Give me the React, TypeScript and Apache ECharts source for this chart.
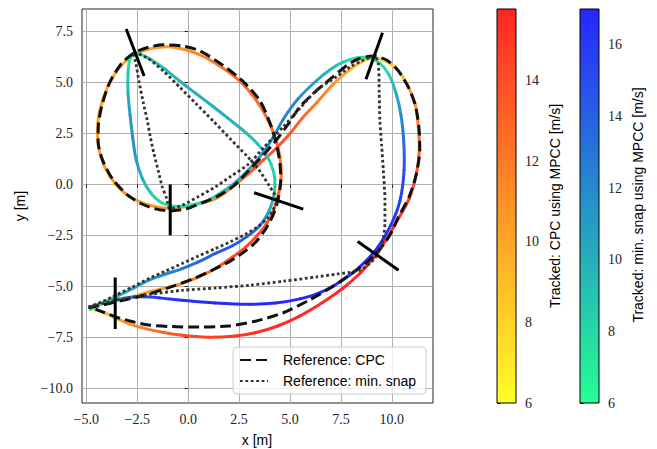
import React, { useEffect, useRef } from 'react';
import * as echarts from 'echarts';

// ---------- tick labels ----------
const xTicks = [-5, -2.5, 0, 2.5, 5, 7.5, 10];
const yTicks = [-10, -7.5, -5, -2.5, 0, 2.5, 5, 7.5];
const cpcBarTicks = [6, 8, 10, 12, 14];
const snapBarTicks = [6, 8, 10, 12, 14, 16];

// ---------- Reference: CPC ----------
const refCpcX = [-4.9, -4.2, -3.56, -2.6, -1.6, -0.7, 0.2, 1.1, 2.0, 2.7, 3.3, 3.8, 4.15, 4.4, 4.55, 4.5, 4.35, 4.1, 3.53, 2.7, 1.7, 0.59, -0.3, -1.21, -2.0, -2.68, -3.3, -3.85, -4.2, -4.4, -4.42, -4.2, -3.7, -3.0, -2.3, -1.6, -0.88, -0.1, 0.7, 1.5, 2.2, 2.9, 3.7, 4.35, 4.9, 5.49, 6.3, 7.12, 7.8, 8.4, 9.08, 9.74, 10.3, 10.8, 11.15, 11.33, 11.37, 11.2, 10.85, 10.3, 9.9, 9.4, 8.8, 8.0, 7.12, 6.0, 4.67, 3.3, 2.0, 0.52, -0.8, -1.93, -2.8, -3.56, -4.1, -4.55];
const refCpcY = [-6.05, -5.92, -5.77, -5.55, -5.28, -4.98, -4.65, -4.25, -3.8, -3.35, -2.85, -2.2, -1.55, -0.8, 0.2, 1.1, 1.9, 2.8, 4.1, 5.05, 5.85, 6.55, 6.8, 6.85, 6.72, 6.44, 5.9, 5.0, 4.0, 3.0, 2.1, 1.19, 0.25, -0.5, -0.95, -1.2, -1.3, -1.2, -0.9, -0.55, -0.1, 0.6, 1.45, 2.2, 2.95, 3.81, 4.6, 5.29, 5.85, 6.18, 6.3, 6.11, 5.6, 4.8, 3.9, 2.8, 1.7, 0.5, -0.6, -1.65, -2.5, -3.2, -3.8, -4.4, -5.0, -5.65, -6.3, -6.72, -6.95, -7.0, -6.98, -6.9, -6.72, -6.5, -6.3, -6.12];

// ---------- Reference: min. snap ----------
const refSnapX = [-4.9, -4.2, -3.56, -2.7, -1.93, -1.1, -0.29, 0.5, 1.34, 2.1, 2.81, 3.45, 3.95, 4.25, 4.35, 4.0, 3.45, 2.88, 2.1, 1.24, 0.4, -0.39, -1.2, -2.02, -2.7, -2.58, -2.4, -2.2, -2.01, -1.85, -1.68, -1.45, -1.27, -1.05, -0.9, -0.29, 0.5, 1.34, 2.1, 2.97, 3.7, 4.67, 5.5, 6.31, 7.29, 8.0, 8.5, 9.15, 9.33, 9.38, 9.41, 9.5, 9.58, 9.66, 9.66, 9.5, 9.1, 8.43, 7.3, 6.31, 4.7, 3.04, 1.4, -0.29, -1.9, -3.0, -3.56, -4.2, -4.87];
const refSnapY = [-6.02, -5.75, -5.44, -5.02, -4.62, -4.25, -3.88, -3.52, -3.15, -2.8, -2.45, -2.05, -1.6, -1.1, -0.75, -0.1, 0.75, 1.4, 2.2, 3.1, 3.95, 4.75, 5.55, 6.22, 6.5, 6.0, 5.0, 4.0, 3.16, 2.3, 1.52, 0.6, -0.12, -0.7, -1.2, -1.02, -0.6, -0.12, 0.4, 1.0, 1.8, 2.83, 3.75, 4.63, 5.29, 5.8, 6.05, 6.3, 5.95, 4.5, 3.16, 1.9, 0.7, -0.77, -1.9, -3.0, -3.7, -4.21, -4.4, -4.54, -4.75, -4.95, -5.08, -5.2, -5.4, -5.58, -5.69, -5.85, -6.01];

// ---------- Tracked: CPC using MPCC (position + speed m/s) ----------
const trkCpcX = [-4.75, -4.2, -3.56, -2.7, -1.93, -1.1, -0.29, 0.5, 1.34, 2.2, 2.8, 3.4, 3.9, 4.25, 4.45, 4.57, 4.5, 4.3, 3.9, 3.3, 2.5, 1.5, 0.5, -0.5, -1.3, -2.1, -2.75, -3.4, -3.95, -4.35, -4.45, -4.3, -3.85, -3.2, -2.4, -1.6, -0.8, 0.3, 1.34, 2.2, 3.0, 3.7, 4.4, 5.0, 5.6, 6.3, 7.1, 7.9, 8.5, 9.1, 9.7, 10.3, 10.8, 11.15, 11.3, 11.35, 11.2, 10.85, 10.25, 9.7, 9.1, 8.4, 7.6, 6.6, 5.5, 4.4, 3.3, 2.2, 1.0, -0.3, -1.3, -2.1, -2.9, -3.56, -4.1, -4.6];
const trkCpcY = [-6.02, -5.85, -5.69, -5.5, -5.28, -5.08, -4.86, -4.55, -4.13, -3.55, -3.1, -2.5, -1.85, -1.1, -0.4, 0.5, 1.4, 2.2, 3.2, 4.2, 5.1, 5.85, 6.4, 6.7, 6.75, 6.6, 6.3, 5.7, 4.8, 3.6, 2.5, 1.4, 0.4, -0.35, -0.85, -1.1, -1.18, -1.0, -0.7, -0.1, 0.55, 1.2, 1.85, 2.5, 3.25, 4.0, 4.9, 5.6, 6.0, 6.2, 6.05, 5.6, 4.8, 3.9, 2.8, 1.7, 0.5, -0.7, -1.8, -2.75, -3.6, -4.4, -5.1, -5.8, -6.45, -6.95, -7.28, -7.45, -7.5, -7.41, -7.25, -7.08, -6.85, -6.55, -6.3, -6.15];
const trkCpcV = [7.5, 8.5, 9.5, 10.0, 10.3, 10.8, 11.5, 12.5, 13.5, 14.2, 14.5, 14.3, 13.8, 13.3, 12.9, 12.6, 12.5, 12.5, 12.7, 13.0, 12.8, 12.3, 11.5, 10.8, 10.5, 10.2, 10.0, 10.0, 10.0, 10.2, 10.4, 10.5, 10.6, 10.7, 10.8, 10.8, 10.8, 11.0, 11.5, 12.3, 13.2, 13.8, 14.0, 13.6, 12.8, 12.0, 10.8, 9.8, 8.8, 8.0, 8.0, 8.8, 10.0, 11.0, 12.0, 13.0, 14.0, 15.0, 15.5, 15.7, 15.7, 15.7, 15.7, 15.7, 15.6, 15.5, 15.3, 15.0, 14.6, 14.0, 13.0, 12.0, 11.0, 10.0, 9.0, 8.0];

// ---------- Tracked: min. snap using MPCC (position + speed m/s) ----------
const trkSnapX = [-4.8, -4.3, -3.56, -2.7, -1.93, -1.1, -0.29, 0.5, 1.34, 2.2, 2.9, 3.5, 3.9, 4.15, 4.26, 4.2, 3.9, 3.4, 2.7, 1.95, 1.24, 0.4, -0.39, -1.2, -1.95, -2.6, -2.85, -2.95, -2.95, -2.85, -2.72, -2.55, -2.25, -1.85, -1.3, -0.6, 0.2, 1.0, 1.7, 2.32, 3.0, 3.63, 4.2, 4.67, 5.4, 6.31, 7.0, 7.6, 8.3, 8.9, 9.4, 9.85, 10.2, 10.45, 10.58, 10.6, 10.4, 9.95, 9.3, 8.43, 7.5, 6.5, 5.49, 4.3, 3.04, 1.34, -0.29, -1.4, -2.3, -2.9, -3.56, -4.0, -4.38, -4.75];
const trkSnapY = [-6.15, -5.85, -5.52, -5.1, -4.7, -4.4, -4.13, -3.8, -3.39, -3.0, -2.55, -2.05, -1.45, -0.8, -0.1, 0.6, 1.35, 2.0, 2.65, 3.25, 3.81, 4.45, 5.05, 5.7, 6.2, 6.45, 6.15, 5.5, 4.5, 3.4, 2.3, 1.2, 0.3, -0.4, -0.9, -1.08, -1.0, -0.77, -0.35, 0.1, 0.75, 1.5, 2.35, 3.2, 4.2, 5.1, 5.65, 6.0, 6.22, 6.2, 5.95, 5.4, 4.5, 3.4, 2.2, 0.7, -0.8, -2.0, -3.1, -4.05, -4.75, -5.3, -5.62, -5.82, -5.88, -5.82, -5.69, -5.57, -5.52, -5.55, -5.65, -5.78, -5.9, -6.1];
const trkSnapV = [6.5, 8.0, 9.8, 10.5, 11.2, 12.0, 12.8, 13.6, 14.3, 14.6, 14.2, 12.8, 11.0, 9.6, 8.6, 8.2, 8.6, 9.2, 9.7, 10.0, 10.2, 10.2, 10.0, 9.5, 8.5, 7.2, 7.3, 8.5, 10.0, 11.0, 11.6, 11.2, 10.0, 8.8, 7.8, 7.2, 7.5, 8.3, 9.3, 10.0, 10.8, 11.5, 12.0, 12.2, 11.8, 10.8, 9.5, 8.5, 7.5, 7.0, 7.5, 8.3, 10.0, 11.8, 13.2, 14.8, 15.8, 16.3, 16.6, 16.8, 16.9, 16.9, 16.9, 16.9, 16.9, 16.8, 16.5, 16.0, 14.8, 13.0, 10.5, 8.8, 7.5, 6.5];

// ---------- Gates (two end points each) ----------
const gateX1 = [-3.04, -0.88, 3.24, 8.32, -3.58, 8.73];
const gateY1 = [7.63, 0.0, -0.41, -2.8, -4.57, 5.16];
const gateX2 = [-2.16, -0.88, 5.65, 10.33, -3.58, 9.54];
const gateY2 = [5.32, -2.5, -1.21, -4.21, -7.1, 7.45];

// ---------- colour scales ----------
const CPC_MIN = 6, CPC_MAX = 15.78;
const SNAP_MIN = 6, SNAP_MAX = 17.0;
const ALPHA = 0.85;

const clamp = (t: number) => Math.max(0, Math.min(1, t));
const blend = (r: number, g: number, b: number) => {
  const f = (c: number) => Math.round(ALPHA * c + (1 - ALPHA) * 255);
  return `rgb(${f(r)},${f(g)},${f(b)})`;
};
const autumnR = (v: number) => {
  const t = clamp((v - CPC_MIN) / (CPC_MAX - CPC_MIN));
  return blend(255, 255 * (1 - t), 0);
};
const winterR = (v: number) => {
  const t = clamp((v - SNAP_MIN) / (SNAP_MAX - SNAP_MIN));
  return blend(0, 255 * (1 - t), 255 * (0.5 + 0.5 * t));
};

const fmtTick = (v: number) => {
  const s = Math.abs(v).toFixed(1);
  return v < -1e-9 ? '\u2212' + s : s;
};

const SERIF = '"Liberation Serif", "DejaVu Serif", serif';
const SANS = '"Liberation Sans", "DejaVu Sans", sans-serif';

function trackSeries(name: string, xs: number[], ys: number[], vs: number[], cmap: (v: number) => string) {
  const n = xs.length;
  return {
    type: 'custom',
    name,
    xAxisIndex: 0,
    yAxisIndex: 0,
    z: 2,
    silent: true,
    data: xs.map((x, i) => [x, ys[i], vs[i]]),
    encode: { x: 0, y: 1 },
    renderItem: (params: any, api: any) => {
      const i = params.dataIndex;
      if (i >= n - 1) return null;
      const i0 = Math.max(i - 1, 0);
      const i3 = Math.min(i + 2, n - 1);
      const p0 = api.coord([xs[i0], ys[i0]]);
      const p1 = api.coord([xs[i], ys[i]]);
      const p2 = api.coord([xs[i + 1], ys[i + 1]]);
      const p3 = api.coord([xs[i3], ys[i3]]);
      const c1 = [p1[0] + (p2[0] - p0[0]) / 6, p1[1] + (p2[1] - p0[1]) / 6];
      const c2 = [p2[0] - (p3[0] - p1[0]) / 6, p2[1] - (p3[1] - p1[1]) / 6];
      return {
        type: 'bezierCurve',
        shape: { x1: p1[0], y1: p1[1], x2: p2[0], y2: p2[1], cpx1: c1[0], cpy1: c1[1], cpx2: c2[0], cpy2: c2[1] },
        style: {
          fill: 'none',
          stroke: new echarts.graphic.LinearGradient(p1[0], p1[1], p2[0], p2[1], [
            { offset: 0, color: cmap(vs[i]) },
            { offset: 1, color: cmap(vs[i + 1]) },
          ], true),
          lineWidth: 3,
          lineCap: 'round',
        },
      };
    },
  };
}

function colorbarSeries(idx: number, min: number, max: number, cmap: (v: number) => string) {
  return {
    type: 'custom',
    xAxisIndex: idx,
    yAxisIndex: idx,
    silent: true,
    z: 1,
    data: [[0, min, 1, max]],
    encode: { x: [0, 2], y: [1, 3] },
    renderItem: (params: any, api: any) => {
      const a = api.coord([api.value(0), api.value(1)]);
      const b = api.coord([api.value(2), api.value(3)]);
      const stops = [] as { offset: number; color: string }[];
      for (let k = 0; k <= 20; k++) stops.push({ offset: k / 20, color: cmap(min + ((max - min) * k) / 20) });
      return {
        type: 'rect',
        shape: { x: Math.min(a[0], b[0]), y: Math.min(a[1], b[1]), width: Math.abs(b[0] - a[0]), height: Math.abs(b[1] - a[1]) },
        style: { fill: new echarts.graphic.LinearGradient(0, 1, 0, 0, stops), stroke: '#000', lineWidth: 1 },
      };
    },
  };
}

function barAxis(idx: number, min: number, max: number, ticks: number[]) {
  return {
    type: 'value',
    gridIndex: idx,
    position: 'right',
    min,
    max,
    interval: 2,
    axisLine: { show: false },
    splitLine: { show: false },
    axisTick: { show: true, inside: false, length: 3.5, customValues: ticks, lineStyle: { color: '#000', width: 1 } },
    axisLabel: { show: true, margin: 9, customValues: ticks, formatter: (v: number) => String(v), fontFamily: SERIF, fontSize: 14, color: '#222' },
  };
}

const option: any = {
  animation: false,
  backgroundColor: '#fff',
  grid: [
    { left: 82, top: 9, width: 351, height: 394, show: true, borderColor: '#222', borderWidth: 1, backgroundColor: 'transparent', containLabel: false, outerBoundsMode: 'none' },
    { left: 497, top: 9, width: 19, height: 394, show: false, containLabel: false, outerBoundsMode: 'none' },
    { left: 580, top: 9, width: 19, height: 394, show: false, containLabel: false, outerBoundsMode: 'none' },
  ],
  xAxis: [
    {
      type: 'value', gridIndex: 0, min: -5.21, max: 12.02, interval: 2.5,
      axisLine: { show: false },
      axisTick: { show: true, inside: false, length: 3.5, customValues: xTicks, lineStyle: { color: '#222', width: 1 } },
      axisLabel: { show: true, margin: 9, customValues: xTicks, formatter: fmtTick, fontFamily: SERIF, fontSize: 14, color: '#222' },
      splitLine: { show: true, lineStyle: { color: '#b0b0b0', width: 1 } },
    },
    { type: 'value', gridIndex: 1, min: 0, max: 1, show: false },
    { type: 'value', gridIndex: 2, min: 0, max: 1, show: false },
  ],
  yAxis: [
    {
      type: 'value', gridIndex: 0, min: -10.73, max: 8.61, interval: 2.5,
      axisLine: { show: false },
      axisTick: { show: true, inside: false, length: 3.5, customValues: yTicks, lineStyle: { color: '#222', width: 1 } },
      axisLabel: { show: true, margin: 9, customValues: yTicks, formatter: fmtTick, fontFamily: SERIF, fontSize: 14, color: '#222' },
      splitLine: { show: true, lineStyle: { color: '#b0b0b0', width: 1 } },
    },
    barAxis(1, CPC_MIN, CPC_MAX, cpcBarTicks),
    barAxis(2, SNAP_MIN, SNAP_MAX, snapBarTicks),
  ],
  legend: {
    data: ['Reference: CPC', 'Reference: min. snap'],
    orient: 'vertical',
    left: 233,
    top: 347,
    itemWidth: 28,
    itemHeight: 14,
    itemGap: 7,
    padding: [6, 10, 6, 6],
    backgroundColor: 'rgba(255,255,255,0.8)',
    borderColor: '#cccccc',
    borderWidth: 1,
    borderRadius: 4,
    selectedMode: false,
    itemStyle: { opacity: 0 },
    textStyle: { fontFamily: SANS, fontSize: 14, color: '#000', padding: [0, 0, 0, 10] },
  },
  graphic: [
    { type: 'text', x: 257, y: 440, style: { text: 'x [m]', font: `14px ${SANS}`, fill: '#000', align: 'center', verticalAlign: 'middle' } },
    { type: 'text', x: 20, y: 206, rotation: Math.PI / 2, style: { text: 'y [m]', font: `14px ${SANS}`, fill: '#000', align: 'center', verticalAlign: 'middle' } },
    { type: 'text', x: 555, y: 206, rotation: Math.PI / 2, style: { text: 'Tracked: CPC using MPCC [m/s]', font: `14px ${SANS}`, fill: '#000', align: 'center', verticalAlign: 'middle' } },
    { type: 'text', x: 638, y: 205, rotation: Math.PI / 2, style: { text: 'Tracked: min. snap using MPCC [m/s]', font: `14px ${SANS}`, fill: '#000', align: 'center', verticalAlign: 'middle' } },
  ],
  series: [
    trackSeries('Tracked: CPC using MPCC', trkCpcX, trkCpcY, trkCpcV, autumnR),
    trackSeries('Tracked: min. snap using MPCC', trkSnapX, trkSnapY, trkSnapV, winterR),
    {
      type: 'line', name: 'Reference: CPC', xAxisIndex: 0, yAxisIndex: 0, z: 3,
      data: refCpcX.map((x, i) => [x, refCpcY[i]]),
      symbol: 'none', showSymbol: false, smooth: 0.25, silent: true,
      lineStyle: { color: '#111', width: 3, type: [11, 5] },
      itemStyle: { color: '#111' },
    },
    {
      type: 'line', name: 'Reference: min. snap', xAxisIndex: 0, yAxisIndex: 0, z: 3,
      data: refSnapX.map((x, i) => [x, refSnapY[i]]),
      symbol: 'none', showSymbol: false, smooth: 0.25, silent: true,
      lineStyle: { color: '#333', width: 2.8, type: [2.8, 2.6] },
      itemStyle: { color: '#333' },
    },
    {
      type: 'custom', name: 'gates', xAxisIndex: 0, yAxisIndex: 0, z: 4, silent: true,
      data: gateX1.map((x, i) => [x, gateY1[i], gateX2[i], gateY2[i]]),
      encode: { x: [0, 2], y: [1, 3] },
      renderItem: (params: any, api: any) => {
        const a = api.coord([api.value(0), api.value(1)]);
        const b = api.coord([api.value(2), api.value(3)]);
        return { type: 'line', shape: { x1: a[0], y1: a[1], x2: b[0], y2: b[1] }, style: { stroke: '#000', lineWidth: 3 } };
      },
    },
    colorbarSeries(1, CPC_MIN, CPC_MAX, autumnR),
    colorbarSeries(2, SNAP_MIN, SNAP_MAX, winterR),
  ],
};

export default function App() {
  const ref = useRef<HTMLDivElement>(null);
  useEffect(() => {
    if (!ref.current) return;
    const chart = echarts.init(ref.current, null, { renderer: 'svg' });
    chart.setOption(option);
    return () => chart.dispose();
  }, []);
  return <div ref={ref} style={{ position: 'fixed', left: 0, top: 0, width: 657, height: 449 }} />;
}
